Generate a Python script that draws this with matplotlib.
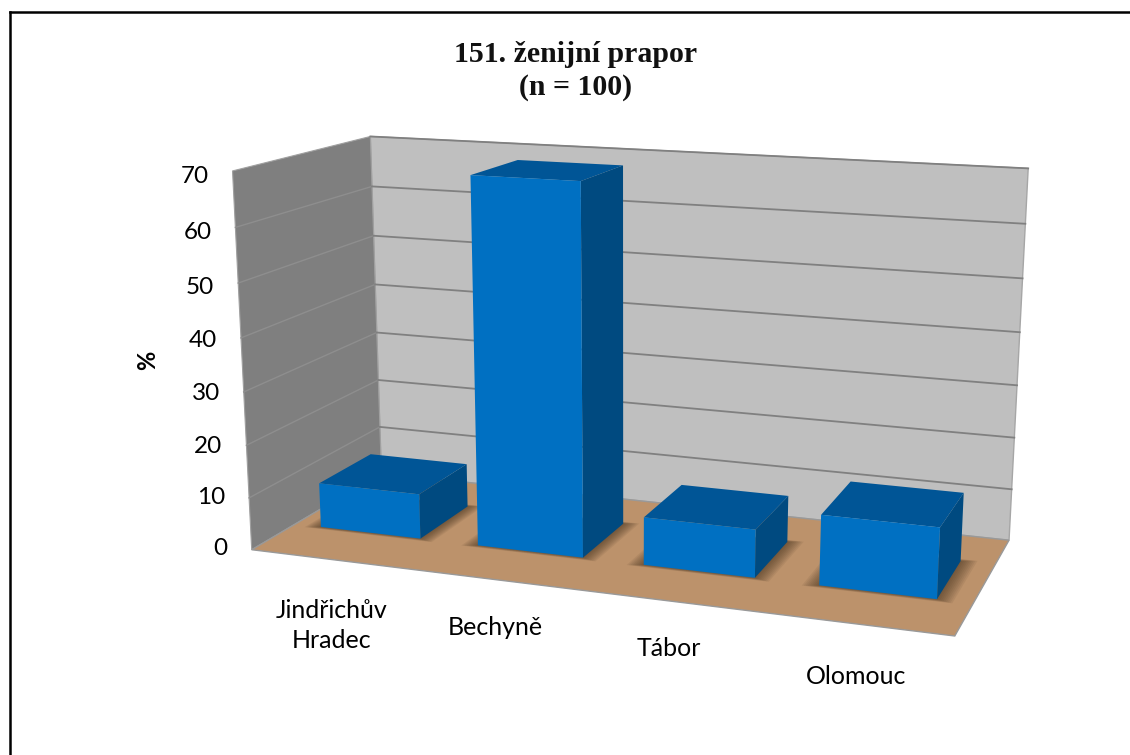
import numpy as np
import matplotlib
matplotlib.use('Agg')
import matplotlib.pyplot as plt
from matplotlib.patches import Polygon

cities = ['Jindřichův\nHradec', 'Bechyně', 'Tábor', 'Olomouc']
percent = [8.7, 69, 9, 13]
z_ticks = [0, 10, 20, 30, 40, 50, 60, 70]
title = '151. ženijní prapor\n(n = 100)'

# pixel positions of the box corners, used to fit the perspective
corner_xyz = np.array([[0, 0, 0], [1, 0, 0], [0, 1, 0], [1, 1, 0],
                       [0, 0, 70], [0, 1, 70], [1, 1, 70]], dtype=float)
corner_px = np.array([[252, 546], [955, 639], [381, 477], [1009, 537],
                      [232, 172], [371, 135], [1028, 169]], dtype=float)


def fit_camera(xyz, px):
    rows = []
    for (x, y, z), (u, v) in zip(xyz, px):
        z = z / 70
        rows.append([x, y, z, 1, 0, 0, 0, 0, -u*x, -u*y, -u*z, -u])
        rows.append([0, 0, 0, 0, x, y, z, 1, -v*x, -v*y, -v*z, -v])
    return np.linalg.svd(np.array(rows))[2][-1].reshape(3, 4)


cam = fit_camera(corner_xyz, corner_px)


def project(x, y, z):
    p = cam @ np.array([x, y, z / 70, 1])
    return p[0] / p[2], p[1] / p[2]


fig = plt.figure(figsize=(11.3, 7.55), dpi=100)
ax = fig.add_axes([0, 0, 1, 1])
ax.set_xlim(0, 1130)
ax.set_ylim(755, 0)
ax.axis('off')


def face(pts, color, edge='none', lw=0, z=1, alpha=None):
    ax.add_patch(Polygon([project(*p) for p in pts], closed=True, facecolor=color,
                         edgecolor=edge, linewidth=lw, zorder=z, alpha=alpha))


# walls and floor
face([(0, 1, 0), (1, 1, 0), (1, 1, 70), (0, 1, 70)], '#bfbfbf', '#a6a6a6', 1)
face([(0, 0, 0), (0, 1, 0), (0, 1, 70), (0, 0, 70)], '#7f7f7f', '#a0a0a0', 0.8)
for t in z_ticks[1:-1]:
    a, b, c = project(0, 0, t), project(0, 1, t), project(1, 1, t)
    ax.plot([a[0], b[0]], [a[1], b[1]], color='#8e8e8e', lw=1, zorder=1.5)
    ax.plot([b[0], c[0]], [b[1], c[1]], color='#808080', lw=1.3, zorder=1.5)
a, b = project(0, 1, 70), project(1, 1, 70)
ax.plot([a[0], b[0]], [a[1], b[1]], color='#808080', lw=1.3, zorder=1.5)
face([(0, 0, 0), (1, 0, 0), (1, 1, 0), (0, 1, 0)], '#bc926b', '#999999', 1, z=2)

# bars
bar_w = 0.16
y0, y1 = 0.31, 0.715
for i, val in enumerate(percent):
    x0 = 0.122 + i * 0.25 - bar_w / 2
    x1 = x0 + bar_w
    # soft shadow on the floor
    for grow in np.linspace(0.022, 0.002, 9):
        face([(x0 - grow, y0 - grow, 0), (x1 + grow, y0 - grow, 0),
              (x1 + grow, y1 + grow, 0), (x0 - grow, y1 + grow, 0)],
             '#3c2a18', z=3, alpha=0.08)
    face([(x0, y0, val), (x1, y0, val), (x1, y1, val), (x0, y1, val)], '#005596', z=4)
    face([(x1, y0, 0), (x1, y1, 0), (x1, y1, val), (x1, y0, val)], '#004a80', z=4)
    face([(x0, y0, 0), (x1, y0, 0), (x1, y0, val), (x0, y0, val)], '#0070c2', z=5)

# tick labels
font = ['Lato', 'DejaVu Sans']
for t in z_ticks:
    u, v = project(0, 0, t)
    ax.text(u - 24, v + t * 0.1 - 1, str(t), ha='right', va='center', fontsize=17.5,
            family=font, color='black')

offsets = [(1, 66), (-1, 48), (-3, 47), (-1, 52)]
for i, name in enumerate(cities):
    u, v = project(0.125 + i * 0.25, 0, 0)
    ax.text(u + offsets[i][0], v + offsets[i][1], name, ha='center', va='center',
            fontsize=18, family=font, color='black', linespacing=1.4)

ax.text(148, 360, '%', rotation=90, ha='center', va='center', fontsize=17,
        fontweight='bold', family=font, color='black')
ax.text(576, 71, title, ha='center', va='center', fontsize=21.5, fontweight='bold',
        family=['Liberation Serif', 'DejaVu Serif'], color='#111111', linespacing=1.25)

# frame of the picture, only left and top are in the crop
ax.plot([9.5, 9.5], [12, 755], color='black', lw=1.8, zorder=6, clip_on=False)
ax.plot([9.5, 1130], [12, 12], color='black', lw=1.8, zorder=6, clip_on=False)

fig.savefig('out.png', dpi=100)
